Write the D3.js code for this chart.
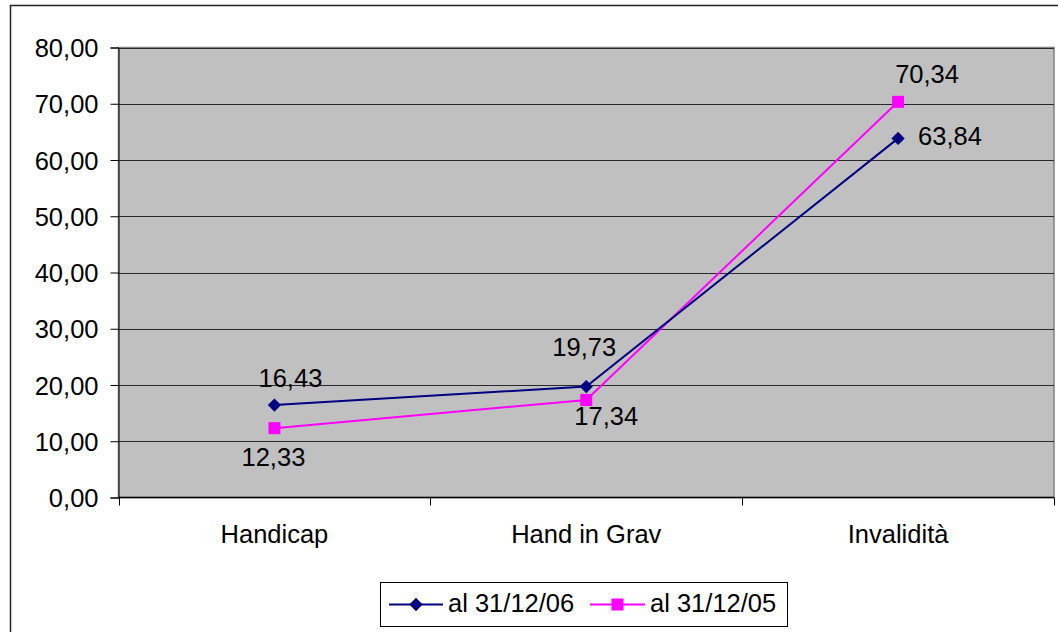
<!DOCTYPE html>
<html>
<head>
<meta charset="utf-8">
<script src="https://cdn.jsdelivr.net/npm/d3@7"></script>
<style>
  html, body { margin: 0; padding: 0; background: #fff; }
  svg { display: block; }
  text { font-family: "Liberation Sans", Arial, sans-serif; fill: #000; }
</style>
</head>
<body>
<svg id="chart" width="1058" height="632"></svg>
<script>
// Categories and series
const categories = ["Handicap", "Hand in Grav", "Invalidità"];
const series06 = [16.43, 19.73, 63.84];
const series05 = [12.33, 17.34, 70.34];
const seriesNames = ["al 31/12/06", "al 31/12/05"];
const yTicks = [0, 10, 20, 30, 40, 50, 60, 70, 80];

// Label placement relative to each point (layout only)
const labelPlacement06 = [
  { dx: 16, dy: -18, anchor: "middle" },
  { dx: -2, dy: -31, anchor: "middle" },
  { dx: 20, dy: 7, anchor: "start" }
];
const labelPlacement05 = [
  { dx: -1, dy: 38, anchor: "middle" },
  { dx: 20, dy: 25, anchor: "middle" },
  { dx: 29, dy: -19, anchor: "middle" }
];

const fmt = v => v.toFixed(2).replace(".", ",");
const FONT = 25.5;

const svg = d3.select("#chart");

// Outer frame
svg.append("rect")
  .attr("x", 10.5).attr("y", 5.5)
  .attr("width", 1100).attr("height", 700)
  .attr("fill", "#fff").attr("stroke", "#222").attr("stroke-width", 1.5);

const plot = { left: 118.5, right: 1054, top: 47.5, bottom: 497.5 };

const x = d3.scaleBand().domain(categories).range([plot.left, plot.right]).padding(0);
const y = d3.scaleLinear().domain([0, 80]).range([plot.bottom, plot.top]);
const cx = c => x(c) + x.bandwidth() / 2;

// Plot background
svg.append("rect")
  .attr("x", plot.left).attr("y", plot.top)
  .attr("width", plot.right - plot.left).attr("height", plot.bottom - plot.top)
  .attr("fill", "#c0c0c0").attr("stroke", "#808080").attr("stroke-width", 1.5);

// Gridlines
svg.append("g").selectAll("line")
  .data(yTicks.filter(t => t > 0))
  .join("line")
  .attr("x1", plot.left).attr("x2", plot.right)
  .attr("y1", d => Math.round(y(d)) + 0.5).attr("y2", d => Math.round(y(d)) + 0.5)
  .attr("stroke", "#2a2a2a").attr("stroke-width", 1);

// Y axis
const yAxis = d3.axisLeft(y).tickValues(yTicks).tickFormat(fmt).tickSize(8).tickPadding(12);
const gy = svg.append("g").attr("transform", `translate(${plot.left},0)`).call(yAxis);
gy.select(".domain").attr("stroke", "#000").attr("stroke-width", 1);
gy.selectAll(".tick line").attr("stroke", "#000");
gy.selectAll("text").style("font-size", FONT + "px").attr("dy", "0.36em");

// X axis line and ticks at band boundaries
svg.append("line")
  .attr("x1", plot.left).attr("x2", plot.right)
  .attr("y1", plot.bottom).attr("y2", plot.bottom)
  .attr("stroke", "#000").attr("stroke-width", 1.5);
const bounds = categories.map(c => x(c)).concat([plot.right]);
svg.append("g").selectAll("line")
  .data(bounds)
  .join("line")
  .attr("x1", d => Math.round(d) + 0.5).attr("x2", d => Math.round(d) + 0.5)
  .attr("y1", plot.bottom).attr("y2", plot.bottom + 8)
  .attr("stroke", "#000");
svg.append("g").selectAll("text")
  .data(categories)
  .join("text")
  .attr("x", d => cx(d)).attr("y", 543)
  .attr("text-anchor", "middle")
  .style("font-size", FONT + "px")
  .text(d => d);

// Lines
const line = d3.line().x((d, i) => cx(categories[i])).y(d => y(d));
const styles = [
  { data: series06, color: "#000080", marker: "diamond", place: labelPlacement06 },
  { data: series05, color: "#ff00ff", marker: "square", place: labelPlacement05 }
];

// Draw 2005 first so 2006 sits on top where they meet
[styles[1], styles[0]].forEach(s => {
  svg.append("path")
    .datum(s.data)
    .attr("d", line)
    .attr("fill", "none")
    .attr("stroke", s.color)
    .attr("stroke-width", 2);
});

function drawMarker(g, type, color, px, py) {
  if (type === "diamond") {
    g.append("path")
      .attr("d", d3.symbol().type(d3.symbolSquare).size(88)())
      .attr("transform", `translate(${px},${py}) rotate(45)`)
      .attr("fill", color);
  } else {
    g.append("rect")
      .attr("x", px - 6).attr("y", py - 6).attr("width", 12).attr("height", 12)
      .attr("fill", color);
  }
}

[styles[1], styles[0]].forEach(s => {
  const g = svg.append("g");
  s.data.forEach((v, i) => drawMarker(g, s.marker, s.color, cx(categories[i]), y(v)));
});

// Data labels
styles.forEach(s => {
  svg.append("g").selectAll("text")
    .data(s.data)
    .join("text")
    .attr("x", (d, i) => cx(categories[i]) + s.place[i].dx)
    .attr("y", (d, i) => y(d) + s.place[i].dy)
    .attr("text-anchor", (d, i) => s.place[i].anchor)
    .style("font-size", FONT + "px")
    .text(d => fmt(d));
});

// Legend
const legend = svg.append("g");
legend.append("rect")
  .attr("x", 380.5).attr("y", 582.5).attr("width", 407).attr("height", 44)
  .attr("fill", "#fff").attr("stroke", "#000").attr("stroke-width", 1);
const legendItems = [
  { x0: 389, x1: 443, tx: 448 },
  { x0: 590, x1: 645, tx: 650 }
];
styles.forEach((s, i) => {
  const it = legendItems[i];
  const ly = 604.5;
  legend.append("line")
    .attr("x1", it.x0).attr("x2", it.x1).attr("y1", ly).attr("y2", ly)
    .attr("stroke", s.color).attr("stroke-width", 2);
  drawMarker(legend, s.marker, s.color, (it.x0 + it.x1) / 2, ly);
  legend.append("text")
    .attr("x", it.tx).attr("y", 612)
    .style("font-size", FONT + "px")
    .text(seriesNames[i]);
});
</script>
</body>
</html>
